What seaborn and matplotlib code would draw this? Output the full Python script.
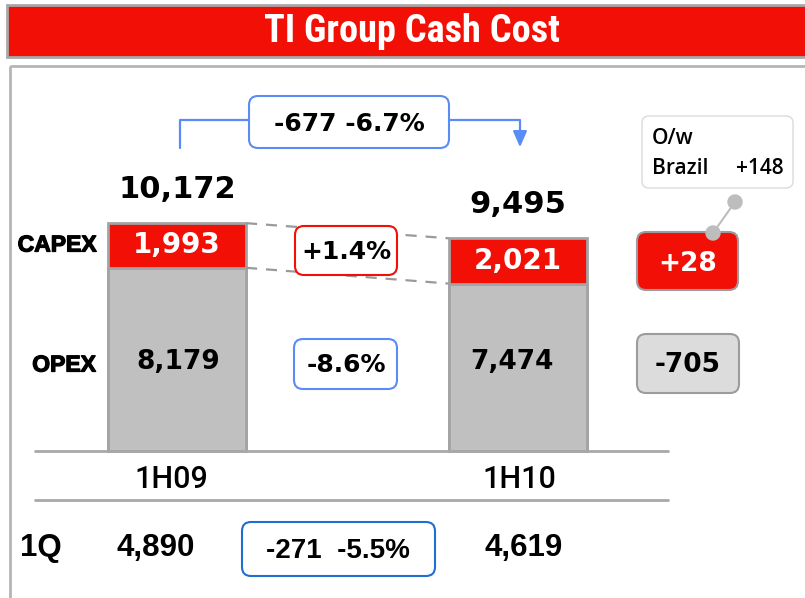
import matplotlib
matplotlib.use('Agg')
import matplotlib.pyplot as plt
import matplotlib.patheffects as pe
import seaborn as sns
import pandas as pd
from matplotlib.patches import FancyBboxPatch, Rectangle, Circle
from matplotlib.lines import Line2D
from matplotlib import font_manager as fm

# ---------------- data ----------------
periods = ['1H09', '1H10']
opex = [8179, 7474]
capex = [1993, 2021]
totals = [10172, 9495]
q1_values = [4890, 4619]
opex_change = '-8.6%'
capex_change = '+1.4%'
total_change = '-677 -6.7%'
q1_change = '-271  -5.5%'
delta_capex = '+28'
delta_opex = '-705'
brazil_label = 'Brazil'
brazil_value = '+148'
title = 'TI Group Cash Cost'

RED = '#F20F05'
GRAY = '#C0C0C0'
EDGE = '#A3A3A3'
BLUE = '#5B8CF5'
BLUE2 = '#1E6FD0'

sns.set_theme(style='white')
plt.rcParams['font.family'] = ['DejaVu Sans']
plt.rcParams['text.color'] = 'black'


def find_narrow_bold():
    def is_bold(f):
        w = f.weight
        if isinstance(w, str):
            return w in ('bold', 'heavy', 'black', 'extra bold', 'semibold', 'demibold')
        return w >= 600
    cands = [f for f in fm.fontManager.ttflist
             if is_bold(f) and ('Narrow' in f.name or 'Condensed' in f.name
                                or 'ondensed' in str(f.stretch) or 'Narrow' in f.fname
                                or 'Condensed' in f.fname)]
    pref = ['Liberation Sans Narrow', 'Roboto Condensed', 'Open Sans Condensed', 'DejaVu Sans']
    for p in pref:
        for f in cands:
            if f.name.startswith(p):
                return fm.FontProperties(fname=f.fname)
    if cands:
        return fm.FontProperties(fname=cands[0].fname)
    return fm.FontProperties(family='DejaVu Sans', weight='bold')


NB = find_narrow_bold()


def nb(size):
    p = NB.copy()
    p.set_size(size)
    return p


ARIAL_B = dict(family=['Liberation Sans', 'DejaVu Sans'], fontweight='bold')
MED = dict(family=['Roboto', 'Liberation Sans', 'DejaVu Sans'], fontweight='medium')
HEAVY = [pe.withStroke(linewidth=0.9, foreground='black')]

W, H = 805, 598
fig = plt.figure(figsize=(8.05, 5.98), dpi=100)
fig.patch.set_facecolor('white')

ax = fig.add_axes([0, 0, 1, 1])
x0px, x1px, y0px, k = 177.0, 518.0, 451.0, 0.0224
bw = 138.0 / (x1px - x0px)

df = pd.DataFrame({'period': periods, 'total': totals, 'opex': opex, 'capex': capex})
sns.barplot(data=df, x='period', y='total', color=RED, saturation=1, edgecolor=EDGE,
            linewidth=2, width=bw, ax=ax, errorbar=None)
sns.barplot(data=df, x='period', y='opex', color=GRAY, saturation=1, edgecolor=EDGE,
            linewidth=2, width=bw, ax=ax, errorbar=None)
ax.set_xlim((0 - x0px) / (x1px - x0px), (W - x0px) / (x1px - x0px))
ax.set_ylim((y0px - H) / k, y0px / k)
ax.axis('off')

for i in range(len(periods)):
    ax.text(i, totals[i] + 34 / k, f'{totals[i]:,}', ha='center', va='center',
            fontsize=22, fontweight='bold')
    ax.text(i, opex[i] + capex[i] / 2, f'{capex[i]:,}', ha='center', va='center',
            fontsize=20, fontweight='bold', color='white')

for series in (totals, opex):
    ax.plot([0 + bw / 2, 1 - bw / 2], [series[0], series[1]], ls=(0, (5, 4)),
            color='#9A9A9A', lw=1.6, zorder=1)

pax = fig.add_axes([0, 0, 1, 1], zorder=5)
pax.set_xlim(0, W)
pax.set_ylim(H, 0)
pax.patch.set_alpha(0)
pax.axis('off')

pax.add_patch(Rectangle((7, 5), 805, 52, facecolor=RED, edgecolor='#A8A8A8', lw=2, clip_on=False))
pax.text(412, 32, title, ha='center', va='center', color='white', fontproperties=nb(27.5))
pax.add_patch(Rectangle((10, 66), 805, 545, facecolor='none', edgecolor='#B5B5B5', lw=2, clip_on=False))

for yy in (451, 500):
    pax.add_line(Line2D([35, 668], [yy, yy], color='#A8A8A8', lw=2))

for i, v in enumerate(opex):
    pax.text([178, 512][i], 362, f'{v:,}', ha='center', va='center', fontsize=19, fontweight='bold')

pax.text(57, 245, 'CAPEX', ha='center', va='center', fontsize=16.5, path_effects=HEAVY, **ARIAL_B)
pax.text(64, 365, 'OPEX', ha='center', va='center', fontsize=16.5, path_effects=HEAVY, **ARIAL_B)
for i, p in enumerate(periods):
    pax.text([171, 519][i], 480, p, ha='center', va='center', fontsize=22, **MED)
pax.text(41, 548, '1Q', ha='center', va='center', fontsize=22.5, **ARIAL_B)
for i, v in enumerate(q1_values):
    pax.text([156, 524][i], 548, f'{v:,}', ha='center', va='center', fontsize=22.5, **ARIAL_B)


def rbox(x, y, w, h, ec, fc='white', lw=1.5, r=9):
    pax.add_patch(FancyBboxPatch((x, y), w, h, boxstyle=f'round,pad=0,rounding_size={r}',
                                 facecolor=fc, edgecolor=ec, lw=lw, clip_on=False))


rbox(295, 226, 102, 49, RED)
pax.text(346, 252, capex_change, ha='center', va='center', fontsize=18, fontweight='bold')
rbox(294, 339, 103, 50, BLUE)
pax.text(346, 365, opex_change, ha='center', va='center', fontsize=18, fontweight='bold')
rbox(242, 522, 193, 54, BLUE2)
pax.text(338, 551, q1_change, ha='center', va='center', fontsize=20, **ARIAL_B)

pax.add_line(Line2D([180, 180, 249], [148, 120, 120], color=BLUE, lw=1.6))
pax.add_line(Line2D([449, 520, 520], [120, 120, 136], color=BLUE, lw=1.6))
pax.annotate('', xy=(520, 150), xytext=(520, 132),
             arrowprops=dict(arrowstyle='-|>,head_length=0.8,head_width=0.35', color=BLUE, lw=1.6))
rbox(249, 96, 200, 52, BLUE)
pax.text(349, 124, total_change, ha='center', va='center', fontsize=18, fontweight='bold')

rbox(637, 232, 101, 58, '#9C9C9C', fc=RED, lw=1.5)
pax.text(688, 264, delta_capex, ha='center', va='center', fontsize=19, fontweight='bold', color='white')
rbox(637, 334, 102, 59, '#9C9C9C', fc='#DCDCDC', lw=1.5)
pax.text(688, 365, delta_opex, ha='center', va='center', fontsize=19, fontweight='bold')

rbox(642, 116, 151, 72, '#DADADA', fc='white', lw=1, r=7)
BZ = dict(fontsize=15, fontweight='semibold', family=['Open Sans', 'DejaVu Sans'])
pax.text(652, 139, 'O/w', ha='left', va='center', **BZ)
pax.text(652, 168, brazil_label, ha='left', va='center', **BZ)
pax.text(784, 168, brazil_value, ha='right', va='center', **BZ)
pax.add_line(Line2D([735, 713], [202, 233], color='#BDBDBD', lw=1.5))
pax.add_patch(Circle((735, 202), 7, color='#BDBDBD'))
pax.add_patch(Circle((713, 233), 7, color='#BDBDBD'))

fig.savefig('out.png', dpi=100)
